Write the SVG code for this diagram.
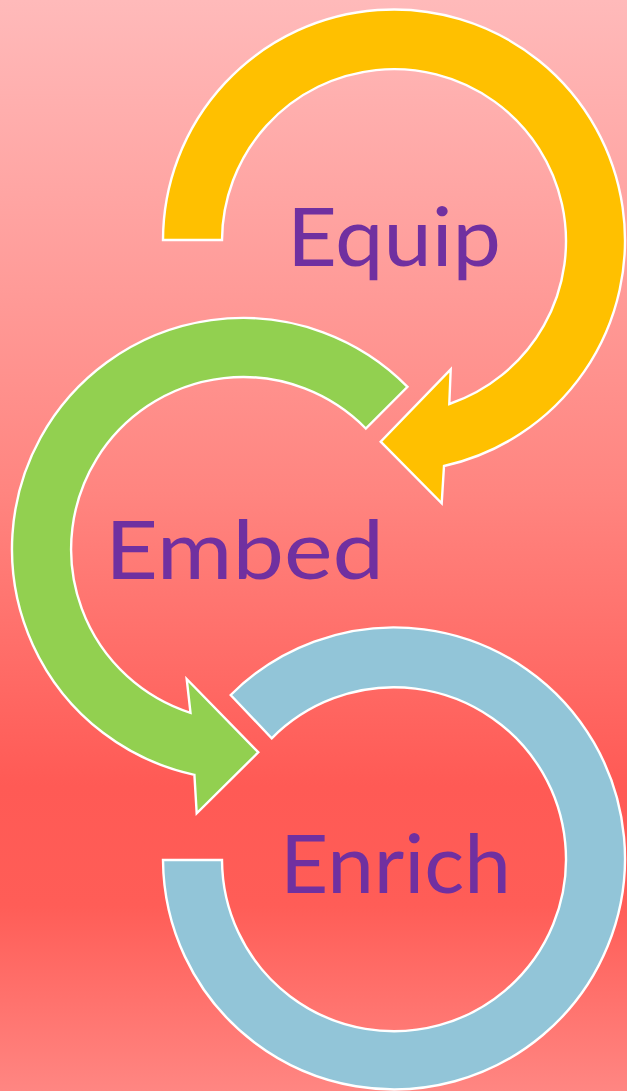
<svg xmlns="http://www.w3.org/2000/svg" width="627" height="1091" viewBox="0 0 627 1091">
<defs>
<linearGradient id="bg" x1="0" y1="0" x2="0" y2="1">
<stop offset="0" stop-color="#FFBABA"/>
<stop offset="0.45" stop-color="#FF8580"/>
<stop offset="0.72" stop-color="#FF5A55"/>
<stop offset="0.83" stop-color="#FF5D57"/>
<stop offset="1" stop-color="#FF8682"/>
</linearGradient>
<style>
.arr{stroke:#FFFFFF;stroke-width:2.4;stroke-linejoin:miter}
.lbl{font-family:"Lato","Liberation Sans",sans-serif;font-size:82px;fill:#7030A0}
</style>
</defs>
<rect x="0" y="0" width="627" height="1091" fill="url(#bg)"/>
<g id="connectors">
<path id="arrow-equip" class="arr" fill="#FFC000" d="M163,240 A231,231 0 1 1 444,466 L441.7,503.3 L380.7,441.7 L450.7,369.3 L449.3,404 A172,172 0 1 0 222,240 Z"/>
<path id="arrow-embed" class="arr" fill="#92D050" d="M407.5,386.8 A231,231 0 1 0 194.4,774.8 L196.7,813.3 L258.3,752.3 L186.7,679 L190.5,712.8 A172,172 0 1 1 365.8,428.5 Z"/>
<path id="arrow-enrich" class="arr" fill="#92C5D8" d="M163,860 A231,231 0 1 0 230.7,695 L271.7,738.3 A172,172 0 1 1 222,860 Z"/>
</g>
<g id="node-equip"><text class="lbl" x="287" y="266" textLength="214" lengthAdjust="spacingAndGlyphs">Equip</text></g>
<g id="node-embed"><text class="lbl" x="105" y="579" textLength="279" lengthAdjust="spacingAndGlyphs">Embed</text></g>
<g id="node-enrich"><text class="lbl" x="280" y="892.7" textLength="231" lengthAdjust="spacingAndGlyphs">Enrich</text></g>
</svg>
